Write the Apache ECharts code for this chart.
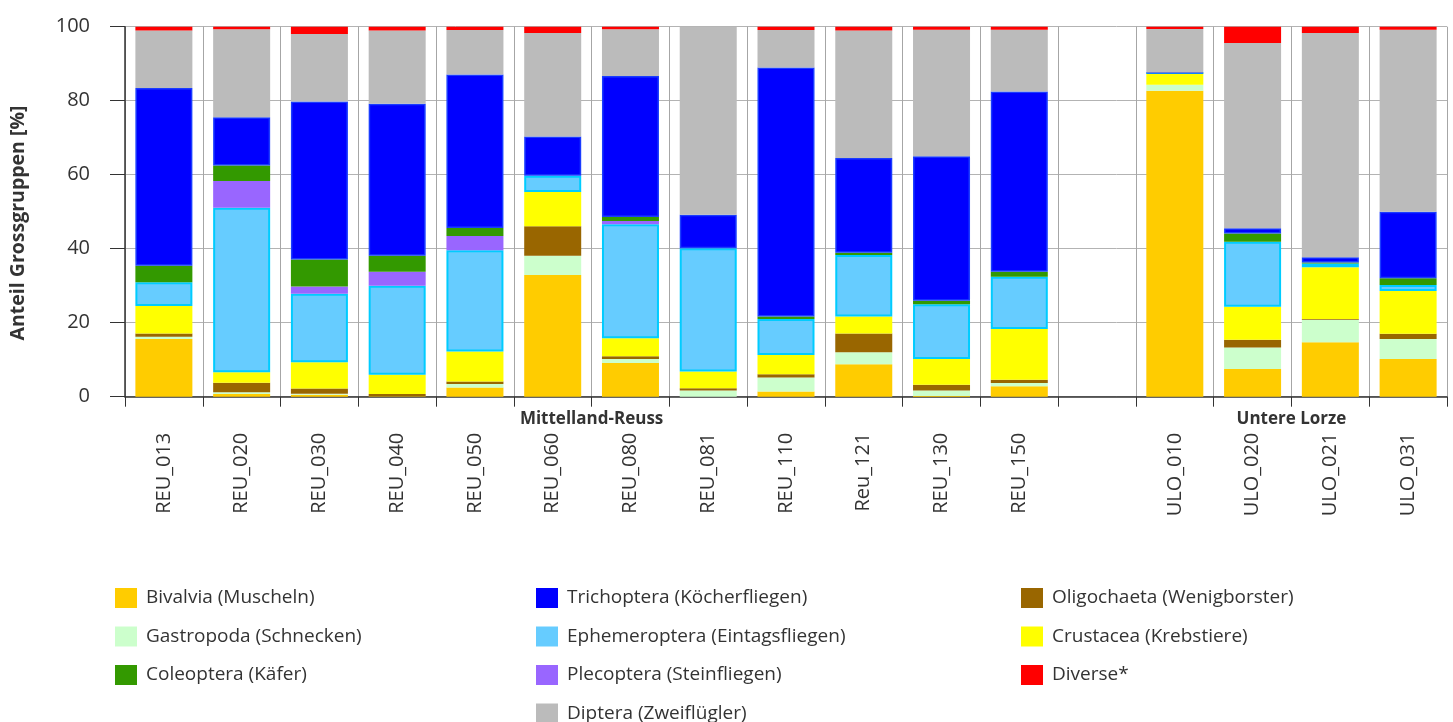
<!DOCTYPE html>
<html>
<head>
<meta charset="utf-8">
<script src="https://cdn.jsdelivr.net/npm/echarts@6/dist/echarts.min.js"></script>
<style>
html,body{margin:0;padding:0;background:#fff;}
#chart{width:1453px;height:722px;}
</style>
</head>
<body>
<div id="chart"></div>
<script>
const categories = ['REU_013','REU_020','REU_030','REU_040','REU_050','REU_060','REU_080','REU_081','REU_110','Reu_121','REU_130','REU_150','','ULO_010','ULO_020','ULO_021','ULO_031'];
const yTicks = [0, 20, 40, 60, 80, 100];
const groupNames = ['Mittelland-Reuss', 'Untere Lorze'];
const groupFirst = [0, 13];
const groupLast = [11, 16];

const bivalvia      = [15.6, 0.7, 0.5, 0.1, 2.5, 32.9, 9.1, 0,    1.4, 8.8, 0.2, 2.8, null, 82.7, 7.5, 14.7, 10.2];
const gastropoda    = [0.6,  0.5, 0.3, 0,   0.9, 5.2,  1.1, 1.7,  3.8, 3.2, 1.5, 0.9, null, 1.6,  5.8, 6.1,  5.4];
const oligochaeta   = [0.9,  2.6, 1.4, 0.6, 0.7, 8.0,  0.7, 0.6,  0.9, 5.1, 1.5, 0.9, null, 0,    2.1, 0.2,  1.4];
const crustacea     = [7.4,  2.8, 7.1, 5.2, 8.1, 9.2,  4.9, 4.5,  5.2, 4.6, 7.0, 13.7,null, 3.2,  8.9, 14.0, 11.6];
const ephemeroptera = [6.4,  44.5,18.5,24.1,27.4,4.4,  30.8,33.3, 9.7, 16.6,14.8,14.1,null, 0,    17.6,1.0,  1.6];
const plecoptera    = [0,    7.2, 2.0, 3.8, 3.8, 0,    0.9, 0,    0,   0,   0,   0,   null, 0,    0,   0,    0];
const coleoptera    = [4.5,  4.2, 7.3, 4.3, 2.2, 0,    1.1, 0,    0.7, 0.6, 0.9, 1.4, null, 0,    2.2, 0.3,  1.8];
const trichoptera   = [48.0, 13.0,42.7,41.1,41.5,10.6, 38.1,9.1,  67.3,25.6,39.1,48.7,null, 0.1,  1.4, 1.4,  18.0];
const diptera       = [15.6, 23.8,18.2,19.8,12.0,28.0, 12.6,50.8, 10.1,34.5,34.2,16.7,null, 11.8, 50.1,60.6, 49.2];
const diverse       = [1.0,  0.7, 2.0, 1.0, 0.9, 1.7,  0.7, 0,    0.9, 1.0, 0.8, 0.8, null, 0.6,  4.4, 1.7,  0.8];

const seriesDefs = [
  ['Bivalvia (Muscheln)', bivalvia, '#FFCC00', null, 0],
  ['Gastropoda (Schnecken)', gastropoda, '#CCFFCC', null, 0],
  ['Oligochaeta (Wenigborster)', oligochaeta, '#996600', null, 0],
  ['Crustacea (Krebstiere)', crustacea, '#FFFF00', null, 0],
  ['Ephemeroptera (Eintagsfliegen)', ephemeroptera, '#66CCFF', '#00CCFF', 2],
  ['Plecoptera (Steinfliegen)', plecoptera, '#9966FF', null, 0],
  ['Coleoptera (Käfer)', coleoptera, '#339900', null, 0],
  ['Trichoptera (Köcherfliegen)', trichoptera, '#0000FF', '#1A3CFF', 1.5],
  ['Diptera (Zweiflügler)', diptera, '#BBBBBB', null, 0],
  ['Diverse*', diverse, '#FF0000', null, 0]
];

const FONT = '"Open Sans", "Noto Sans", sans-serif';
const TXT = '#333333';

const chart = echarts.init(document.getElementById('chart'), null, {renderer: 'canvas'});

const legendBase = {
  orient: 'vertical',
  icon: 'rect',
  itemWidth: 22,
  itemHeight: 20,
  itemGap: 18.5,
  top: 588,
  height: 300,
  padding: 0,
  textStyle: {fontFamily: FONT, fontSize: 19, color: TXT, padding: [0, 0, 0, 4]},
  itemStyle: {borderWidth: 0}
};

const option = {
  animation: false,
  backgroundColor: '#ffffff',
  grid: {left: 125, right: 6, top: 26.7, bottom: 325.3, containLabel: false},
  legend: [
    Object.assign({}, legendBase, {left: 115, data: ['Bivalvia (Muscheln)', 'Gastropoda (Schnecken)', 'Coleoptera (Käfer)']}),
    Object.assign({}, legendBase, {left: 536, data: ['Trichoptera (Köcherfliegen)', 'Ephemeroptera (Eintagsfliegen)', 'Plecoptera (Steinfliegen)', 'Diptera (Zweiflügler)']}),
    Object.assign({}, legendBase, {left: 1021, data: ['Oligochaeta (Wenigborster)', 'Crustacea (Krebstiere)', 'Diverse*']})
  ],
  xAxis: {
    type: 'category',
    data: categories,
    boundaryGap: true,
    axisLine: {show: true, lineStyle: {color: '#333', width: 1.5}},
    axisTick: {show: true, interval: 0, length: 10, lineStyle: {color: '#333'}},
    splitLine: {show: true, interval: 0, lineStyle: {color: '#a6a6a6', width: 1}},
    axisLabel: {interval: 0, rotate: 90, margin: 36, fontFamily: FONT, fontSize: 20, color: TXT}
  },
  yAxis: {
    type: 'value',
    min: 0,
    max: 100,
    interval: 20,
    axisLine: {show: true, lineStyle: {color: '#333', width: 1.5}},
    axisTick: {show: true, length: 15, lineStyle: {color: '#333'}},
    splitLine: {show: true, lineStyle: {color: '#b3b3b3', width: 1}},
    axisLabel: {
      margin: 35, fontFamily: FONT, fontSize: 20, color: TXT,
      formatter: function (v) { return yTicks.indexOf(v) >= 0 ? String(v) : ''; }
    }
  },
  series: seriesDefs.map(function (d) {
    return {
      name: d[0],
      type: 'bar',
      stack: 'total',
      barWidth: 57,
      data: d[1],
      itemStyle: {color: d[2], borderColor: d[3] || d[2], borderWidth: d[4]},
      emphasis: {disabled: true}
    };
  })
};

chart.setOption(option);

const graphics = [{
  type: 'text',
  x: 18,
  y: 223,
  rotation: Math.PI / 2,
  style: {
    text: 'Anteil Grossgruppen [%]',
    fontFamily: FONT, fontSize: 19.5, fontWeight: 'bold', fill: TXT,
    textAlign: 'center', textVerticalAlign: 'middle'
  }
}];
const axisY = chart.convertToPixel({yAxisIndex: 0}, 0);
for (let i = 0; i < groupNames.length; i++) {
  const x1 = chart.convertToPixel({xAxisIndex: 0}, groupFirst[i]);
  const x2 = chart.convertToPixel({xAxisIndex: 0}, groupLast[i]);
  graphics.push({
    type: 'text',
    x: (x1 + x2) / 2,
    y: axisY + 22,
    style: {
      text: groupNames[i],
      fontFamily: FONT, fontSize: 17, fontWeight: 'bold', fill: TXT,
      textAlign: 'center', textVerticalAlign: 'middle'
    }
  });
}
chart.setOption({graphic: graphics});
</script>
</body>
</html>
